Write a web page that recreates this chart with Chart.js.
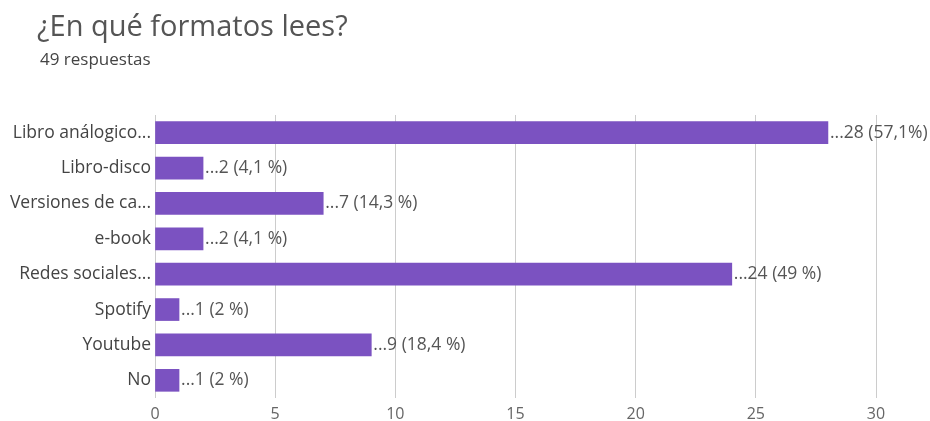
<!DOCTYPE html>
<html>
<head>
<meta charset="utf-8">
<script src="https://cdn.jsdelivr.net/npm/chart.js@4/dist/chart.umd.min.js"></script>
<style>
html,body{margin:0;padding:0;background:#fff;}
#wrap{position:relative;width:930px;height:421px;}
</style>
</head>
<body>
<div id="wrap"><canvas id="c" width="930" height="421"></canvas></div>
<script>
const titleText = '¿En qué formatos lees?';
const subtitleText = '49 respuestas';
const categories = ['Libro análogico...', 'Libro-disco', 'Versiones de ca...', 'e-book', 'Redes sociales...', 'Spotify', 'Youtube', 'No'];
const values = [28, 2, 7, 2, 24, 1, 9, 1];
const valueLabels = ['...28 (57,1%)', '...2 (4,1 %)', '...7 (14,3 %)', '...2 (4,1 %)', '...24 (49 %)', '...1 (2 %)', '...9 (18,4 %)', '...1 (2 %)'];
const xTicks = [0, 5, 10, 15, 20, 25, 30];

const FONT = '"Open Sans", sans-serif';

const headerPlugin = {
  id: 'header',
  afterDraw(chart) {
    const ctx = chart.ctx;
    ctx.save();
    ctx.fillStyle = '#555';
    ctx.textBaseline = 'middle';
    ctx.textAlign = 'left';
    ctx.font = '29px ' + FONT;
    ctx.fillText(titleText, 37, 28);
    ctx.fillStyle = '#444';
    ctx.font = '17px ' + FONT;
    ctx.fillText(subtitleText, 40, 60);
    ctx.restore();
  }
};

const valueLabelPlugin = {
  id: 'valueLabels',
  afterDatasetsDraw(chart) {
    const ctx = chart.ctx;
    const meta = chart.getDatasetMeta(0);
    ctx.save();
    ctx.fillStyle = '#555';
    ctx.font = '17.5px ' + FONT;
    ctx.textBaseline = 'middle';
    ctx.textAlign = 'left';
    meta.data.forEach((bar, i) => {
      ctx.fillText(valueLabels[i], bar.x + 2, bar.y);
    });
    ctx.restore();
  }
};

new Chart(document.getElementById('c'), {
  type: 'bar',
  data: {
    labels: categories,
    datasets: [{
      data: values,
      backgroundColor: '#7b52c1',
      borderWidth: 0,
      barThickness: 22
    }]
  },
  options: {
    indexAxis: 'y',
    responsive: false,
    animation: false,
    layout: { padding: { top: 115, right: 54, bottom: 0, left: 0 } },
    plugins: { legend: { display: false }, tooltip: { enabled: false }, title: { display: false } },
    scales: {
      x: {
        min: 0, max: 30,
        afterBuildTicks(scale) { scale.ticks = xTicks.map(v => ({ value: v })); },
        grid: { color: '#cccccc', drawTicks: false, lineWidth: 1 },
        border: { display: false },
        ticks: { color: '#666', font: { size: 16, family: FONT }, padding: 7 },
        afterFit(scale) { scale.height = 23; }
      },
      y: {
        grid: { display: false, drawTicks: false },
        border: { display: false },
        ticks: { color: '#444', font: { size: 17.5, family: FONT }, padding: 4 },
        afterFit(scale) { scale.width = 155; }
      }
    }
  },
  plugins: [headerPlugin, valueLabelPlugin]
});
</script>
</body>
</html>
